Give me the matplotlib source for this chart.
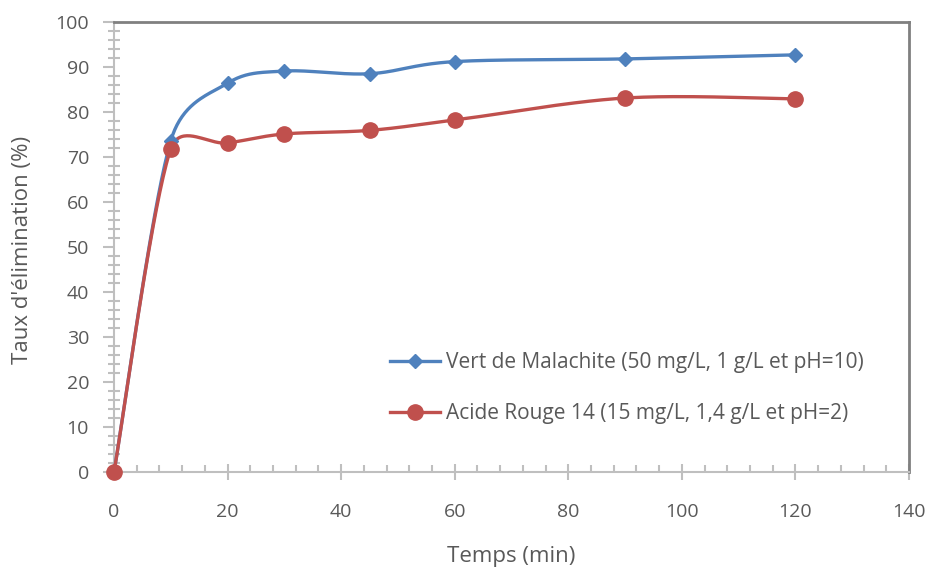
import numpy as np
import matplotlib.pyplot as plt
from matplotlib.ticker import MultipleLocator

plt.rcParams['font.family'] = ['Open Sans', 'DejaVu Sans']

temps = [0, 10, 20, 30, 45, 60, 90, 120]
vert_malachite = [0, 73.7, 86.5, 89.2, 88.6, 91.3, 91.9, 92.8]
acide_rouge = [0, 71.9, 73.2, 75.2, 76.0, 78.3, 83.2, 83.0]

label_vm = "Vert de Malachite (50 mg/L, 1 g/L et pH=10)"
label_ar = "Acide Rouge 14 (15 mg/L, 1,4 g/L et pH=2)"

blue = '#4F81BD'
red = '#C0504D'
txt = '#595959'


def smooth(x, y, sx=5.68, sy=4.5, n=40):
    # courbe lissée façon Excel : poignées (p2-p0)/6 en coordonnées écran,
    # limitées à la moitié du segment voisin
    P = np.column_stack([np.asarray(x, float) * sx, np.asarray(y, float) * sy])

    def handle(v, seg):
        L = np.linalg.norm(v)
        if L > 0.5 * seg:
            v = v * 0.5 * seg / L
        return v

    out = [P[0]]
    for i in range(len(P) - 1):
        p0 = P[i - 1] if i > 0 else P[i]
        p1, p2 = P[i], P[i + 1]
        p3 = P[i + 2] if i + 2 < len(P) else P[i + 1]
        seg = np.linalg.norm(p2 - p1)
        c1 = p1 + handle((p2 - p0) / 6, seg)
        c2 = p2 - handle((p3 - p1) / 6, seg)
        t = np.linspace(0, 1, n)[1:, None]
        b = (1 - t) ** 3 * p1 + 3 * (1 - t) ** 2 * t * c1 + 3 * (1 - t) * t ** 2 * c2 + t ** 3 * p2
        out.extend(b)
    out = np.array(out)
    return out[:, 0] / sx, out[:, 1] / sy


fig = plt.figure(figsize=(9.3, 5.71), dpi=100)
ax = fig.add_axes([0.1226, 0.1734, 0.8548, 0.7872])

xs, ys = smooth(temps, vert_malachite)
ax.plot(xs, ys, color=blue, lw=2.4, zorder=3, clip_on=False)
ax.plot(temps, vert_malachite, 'D', color=blue, ms=7.5, zorder=4, clip_on=False)
xs, ys = smooth(temps, acide_rouge)
ax.plot(xs, ys, color=red, lw=2.4, zorder=3, clip_on=False)
ax.plot(temps, acide_rouge, 'o', color=red, ms=11, zorder=4, clip_on=False)

# entrées de légende
ax.plot([], [], '-D', color=blue, lw=2.4, ms=7.5, label=label_vm)
ax.plot([], [], '-o', color=red, lw=2.4, ms=11, label=label_ar)

ax.set_xlim(0, 140)
ax.set_ylim(0, 100)
ax.xaxis.set_major_locator(MultipleLocator(20))
ax.xaxis.set_minor_locator(MultipleLocator(4))
ax.yaxis.set_major_locator(MultipleLocator(10))
ax.yaxis.set_minor_locator(MultipleLocator(2))

for s in ['left', 'bottom']:
    ax.spines[s].set_color('#BFBFBF')
    ax.spines[s].set_linewidth(1.5)
for s in ['top', 'right']:
    ax.spines[s].set_color('#808080')
    ax.spines[s].set_linewidth(2)

ax.tick_params(axis='y', which='major', direction='out', length=8, width=1.5,
               color='#BFBFBF', labelcolor=txt, labelsize=14, pad=10)
ax.tick_params(axis='y', which='minor', direction='inout', length=8, width=1.5, color='#BFBFBF')
ax.tick_params(axis='x', which='major', direction='inout', length=12, width=1.5,
               color='#BFBFBF', labelcolor=txt, labelsize=14, pad=16)
ax.tick_params(axis='x', which='minor', direction='in', length=5, width=1.5, color='#BFBFBF')

fig.text(0.5495, 0.026, 'Temps (min)', fontsize=16, color=txt, ha='center', va='center')
fig.text(0.0237, 0.562, "Taux d'élimination (%)", fontsize=16, color=txt,
         ha='center', va='center', rotation=90)

leg = ax.legend(loc='center left', bbox_to_anchor=(0.347, 0.186), frameon=False,
                fontsize=15, labelcolor=txt, handlelength=2.4, handletextpad=0.3,
                labelspacing=1.45, borderpad=0, borderaxespad=0)

fig.savefig('out.png', dpi=100)
